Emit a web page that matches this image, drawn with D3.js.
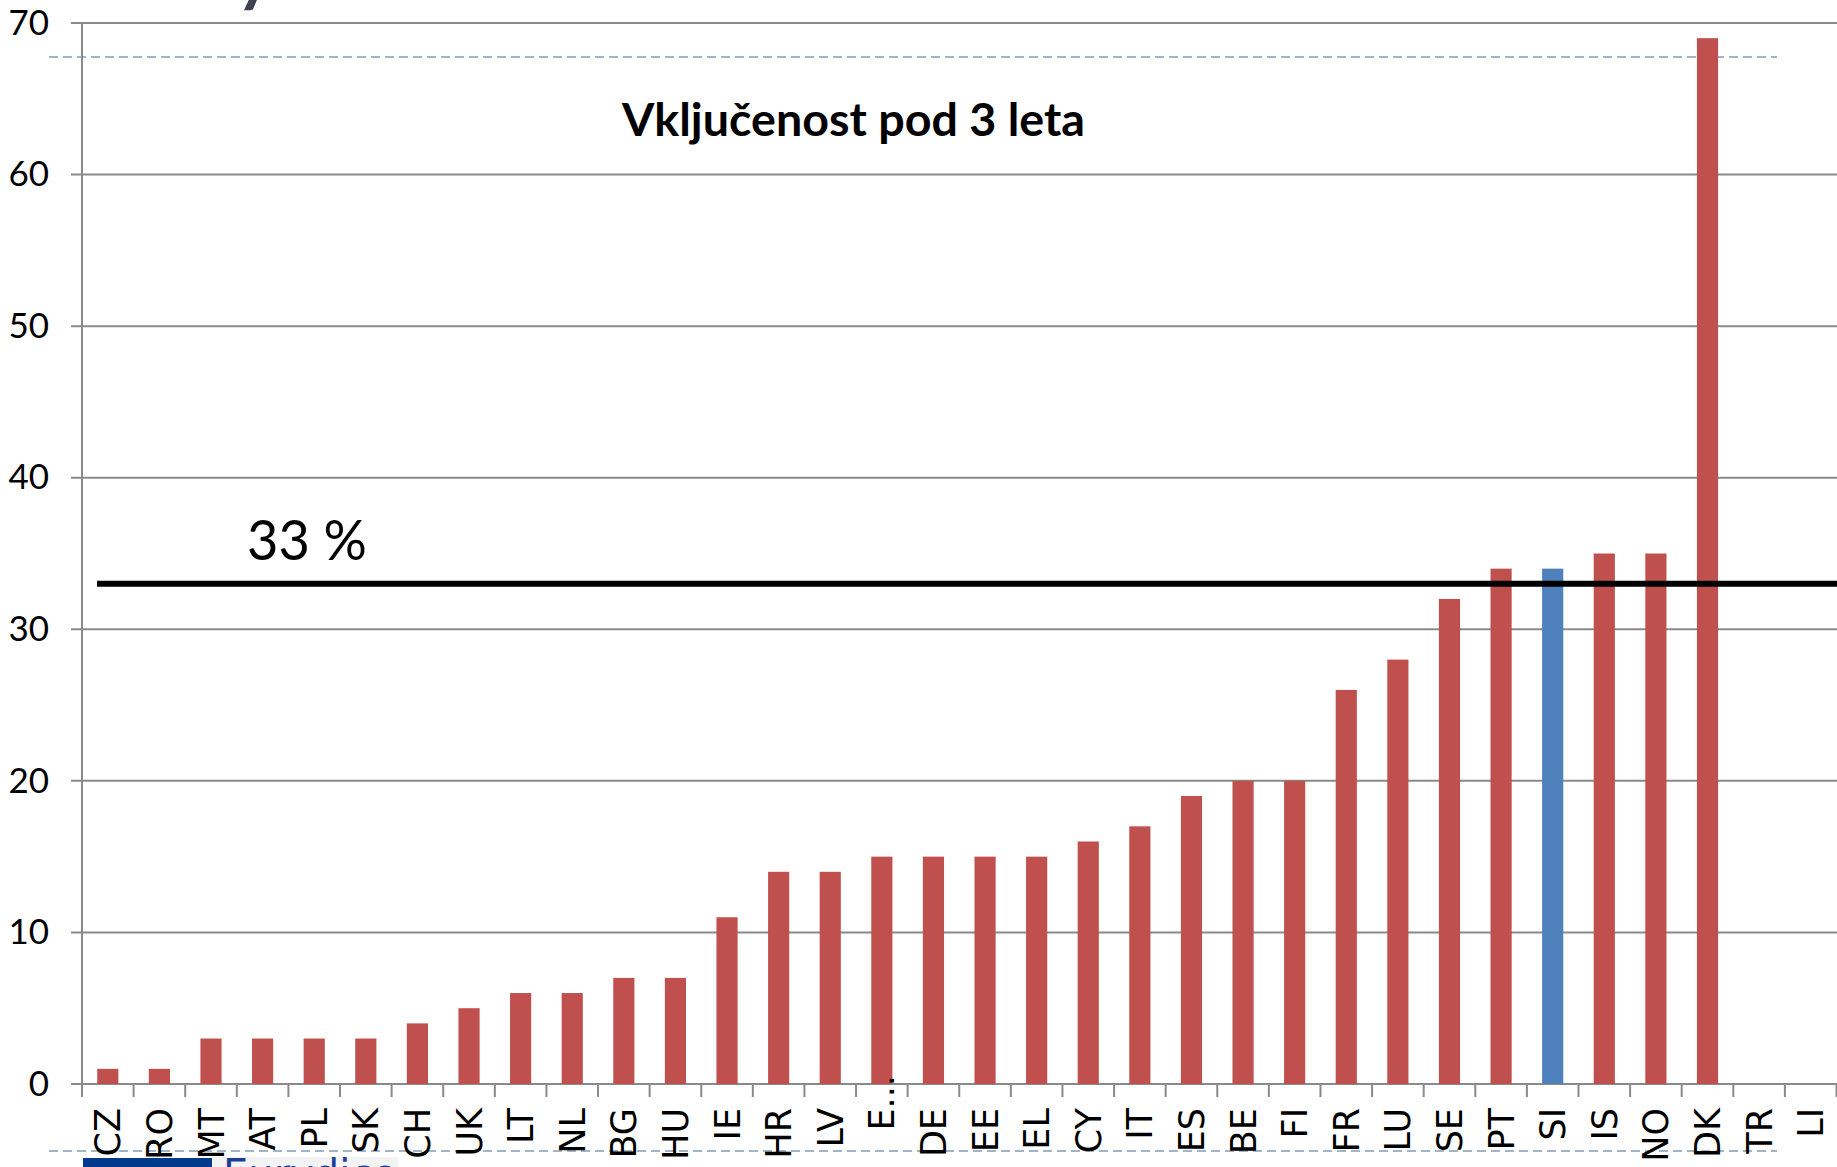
<!DOCTYPE html>
<html>
<head>
<meta charset="utf-8">
<script src="https://cdn.jsdelivr.net/npm/d3@7"></script>
<style>
  body { margin: 0; background: #fff; overflow: hidden; }
  svg { display: block; }
</style>
</head>
<body>
<div id="chart"></div>
<script>
// données
const countries = ["CZ","RO","MT","AT","PL","SK","CH","UK","LT","NL","BG","HU","IE","HR","LV","E...","DE","EE","EL","CY","IT","ES","BE","FI","FR","LU","SE","PT","SI","IS","NO","DK","TR","LI"];
const values = [1,1,3,3,3,3,4,5,6,6,7,7,11,14,14,15,15,15,15,16,17,19,20,20,26,28,32,34,34,35,35,69,null,null];
const highlight = ["SI"];
const yTicks = [0,10,20,30,40,50,60,70];
const target = 33;
const titre = "Vključenost pod 3 leta";
const cibleTexte = "33 %";

// marges
const W = 1837, H = 1167;
const x0 = 82, x1 = 1836.5;
const yTop = 23, yBottom = 1084;

const svg = d3.select("#chart").append("svg")
  .attr("width", W)
  .attr("height", H);

const x = d3.scaleBand()
  .domain(countries)
  .range([x0, x1])
  .paddingInner(0.59)
  .paddingOuter(0.295);

const y = d3.scaleLinear()
  .domain([0, 70])
  .range([yBottom, yTop]);

// bout de titre coupé en haut
svg.append("text")
  .attr("x", 236)
  .attr("y", -2)
  .attr("font-family", "Lato")
  .attr("font-weight", "bold")
  .attr("font-size", 70)
  .attr("fill", "#3e4150")
  .text("y");

// lignes pointillées du gabarit
svg.append("line")
  .attr("x1", 49).attr("x2", 1777)
  .attr("y1", 57).attr("y2", 57)
  .attr("stroke", "#a0b4ca")
  .attr("stroke-width", 2)
  .attr("stroke-dasharray", "9,5");

svg.append("line")
  .attr("x1", 49).attr("x2", 1777)
  .attr("y1", 1151).attr("y2", 1151)
  .attr("stroke", "#a0b4ca")
  .attr("stroke-width", 2)
  .attr("stroke-dasharray", "9,5");

// grille
svg.append("g").selectAll("line")
  .data(yTicks)
  .enter()
  .append("line")
  .attr("x1", x0 - 11)
  .attr("x2", W)
  .attr("y1", d => y(d))
  .attr("y2", d => y(d))
  .attr("stroke", "#8a8a8a")
  .attr("stroke-width", 2);

// axe y
const yAxis = svg.append("g")
  .attr("transform", "translate(" + x0 + ",0)")
  .call(d3.axisLeft(y).tickValues(yTicks).tickSize(0).tickPadding(33));
yAxis.select(".domain").remove();
yAxis.selectAll("text")
  .attr("font-family", "Lato")
  .attr("font-size", 35)
  .attr("fill", "#000");

svg.append("line")
  .attr("x1", x0).attr("x2", x0)
  .attr("y1", yTop).attr("y2", yBottom + 13)
  .attr("stroke", "#8a8a8a")
  .attr("stroke-width", 2);

// petits traits entre les catégories
svg.append("g").selectAll("line")
  .data(d3.range(countries.length + 1))
  .enter()
  .append("line")
  .attr("x1", i => x0 + i * x.step())
  .attr("x2", i => x0 + i * x.step())
  .attr("y1", yBottom)
  .attr("y2", yBottom + 13)
  .attr("stroke", "#8a8a8a")
  .attr("stroke-width", 2);

// barres
svg.append("g").selectAll("rect")
  .data(countries.map((c, i) => ({c: c, v: values[i]})).filter(d => d.v != null))
  .enter()
  .append("rect")
  .attr("x", d => x(d.c))
  .attr("y", d => y(d.v))
  .attr("width", x.bandwidth())
  .attr("height", d => yBottom - y(d.v))
  .attr("fill", d => highlight.includes(d.c) ? "#4f81bd" : "#c0504d");

// axe x
const xAxis = svg.append("g")
  .attr("transform", "translate(0," + yBottom + ")")
  .call(d3.axisBottom(x).tickSize(0));
xAxis.select(".domain").remove();
xAxis.selectAll("text")
  .attr("font-family", "DejaVu Sans")
  .attr("font-size", 35)
  .attr("fill", "#000")
  .attr("transform", "rotate(-90)")
  .attr("y", 0)
  .attr("dy", "0.36em")
  .attr("x", d => d == "E..." ? 9 : -24)
  .style("text-anchor", "end");

// ligne des 33 %
svg.append("line")
  .attr("x1", 97).attr("x2", W)
  .attr("y1", y(target)).attr("y2", y(target))
  .attr("stroke", "#000")
  .attr("stroke-width", 6);

svg.append("text")
  .attr("x", 247)
  .attr("y", 560)
  .attr("font-family", "Lato")
  .attr("font-size", 57)
  .attr("fill", "#000")
  .attr("textLength", 120)
  .attr("lengthAdjust", "spacingAndGlyphs")
  .text(cibleTexte);

// titre
svg.append("text")
  .attr("x", 622)
  .attr("y", 136)
  .attr("font-family", "Lato")
  .attr("font-weight", "bold")
  .attr("font-size", 45)
  .attr("textLength", 463)
  .attr("lengthAdjust", "spacingAndGlyphs")
  .attr("fill", "#000")
  .text(titre);

// logo Eurydice (coupé en bas)
svg.append("rect")
  .attr("x", 213).attr("y", 1157)
  .attr("width", 185).attr("height", 10)
  .attr("fill", "#f3f3f3");
svg.append("rect")
  .attr("x", 83).attr("y", 1158)
  .attr("width", 129).attr("height", 9)
  .attr("fill", "#003a8c");
svg.append("text")
  .attr("x", 223)
  .attr("y", 1188)
  .attr("font-family", "DejaVu Sans")
  .attr("font-size", 40)
  .attr("fill", "#1c3f94")
  .text("Eurydice");
</script>
</body>
</html>
